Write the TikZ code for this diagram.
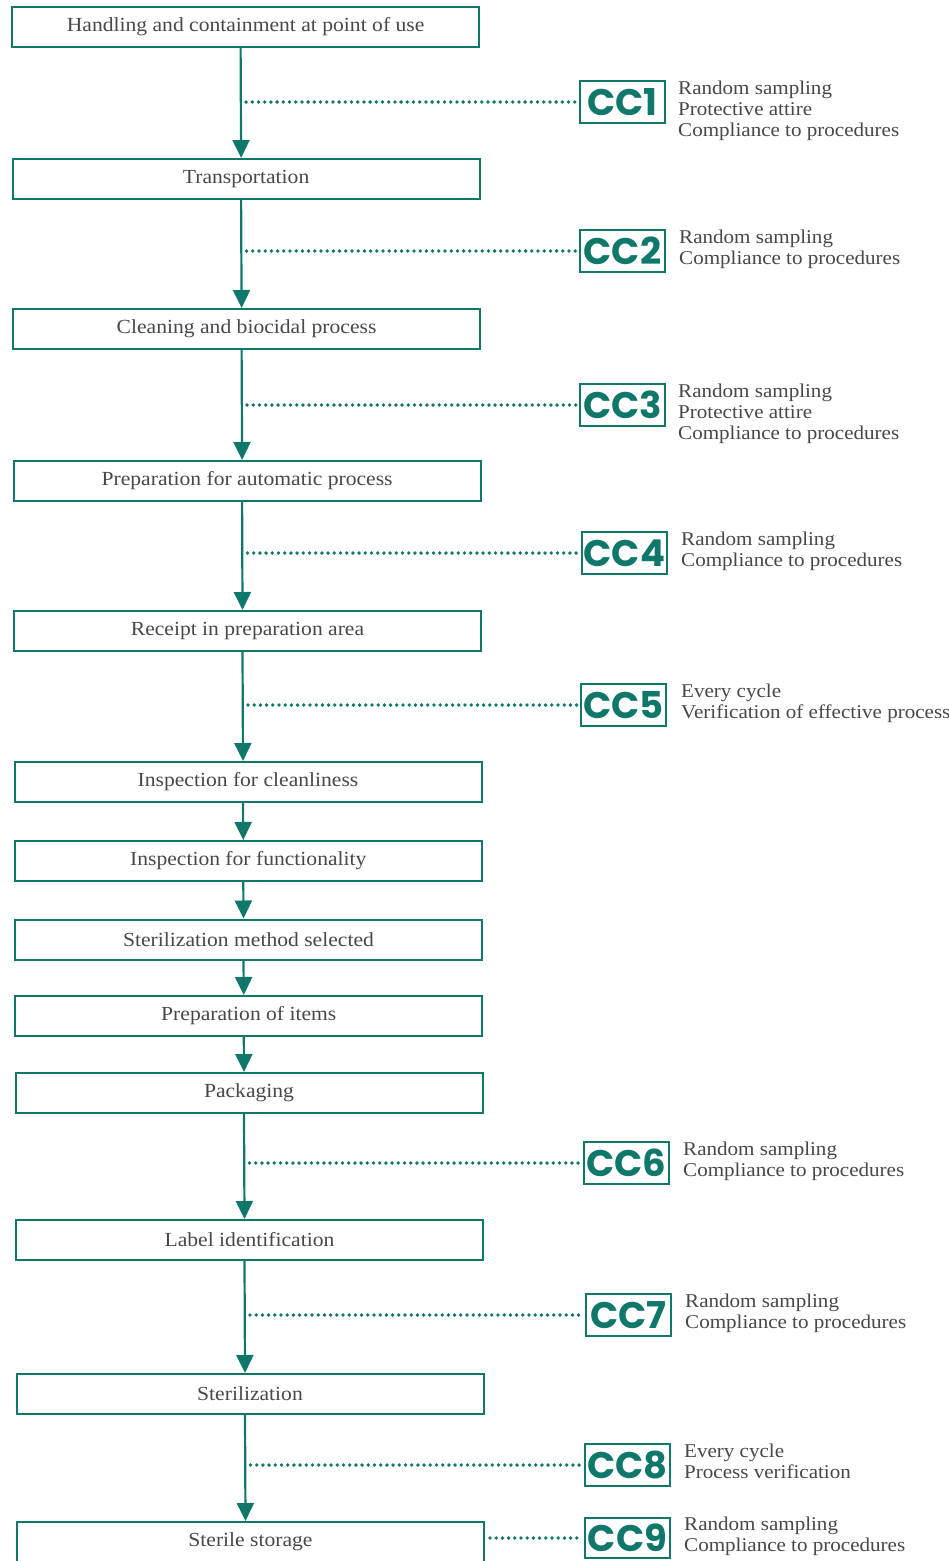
\documentclass[tikz,border=0pt]{standalone}
\usepackage{fontspec}
\setmainfont[FakeStretch=1.08]{Liberation Serif}
\newfontfamily\ccfont{Poppins}
\usetikzlibrary{arrows.meta,calc}
\definecolor{teal1}{RGB}{16,120,106}
\definecolor{txtgray}{RGB}{72,72,72}
\tikzset{
  stepbox/.style={draw=teal1, line width=2pt, minimum width=467pt, minimum height=40pt, inner sep=0pt, text=txtgray, font=\fontsize{20}{24}\selectfont},
  ccbox/.style={draw=teal1, line width=2pt, minimum width=85pt, minimum height=42pt, inner sep=0pt, text=teal1, font=\ccfont\bfseries\fontsize{37}{37}\selectfont},
  cctext/.style={anchor=north west, align=left, text=txtgray, inner sep=0pt, font=\fontsize{19.5}{21}\selectfont},
  arr/.style={draw=teal1, line width=2.2pt, -{Triangle[width=17pt,length=18pt]}},
  dots/.style={draw=teal1, line width=3.8pt, line cap=round, dash pattern=on 0pt off 6.2pt, shorten >=3pt}
}
\begin{document}
\begin{tikzpicture}[x=1pt,y=-1pt]
\useasboundingbox[fill=white] (0,0) rectangle (948,1561);
% process steps
\node[stepbox] (b1)  at (245.6,26.5)  {Handling and containment at point of use};
\node[stepbox] (b2)  at (246.1,179)   {Transportation};
\node[stepbox] (b3)  at (246.6,329)   {Cleaning and biocidal process};
\node[stepbox] (b4)  at (247.1,481)   {Preparation for automatic process};
\node[stepbox] (b5)  at (247.5,631)   {Receipt in preparation area};
\node[stepbox] (b6)  at (248.0,782)   {Inspection for cleanliness};
\node[stepbox] (b7)  at (248.3,861)   {Inspection for functionality};
\node[stepbox] (b8)  at (248.5,939.5) {Sterilization method selected};
\node[stepbox] (b9)  at (248.8,1016)  {Preparation of items};
\node[stepbox] (b10) at (249.0,1093)  {Packaging};
\node[stepbox] (b11) at (249.5,1240)  {Label identification};
\node[stepbox] (b12) at (250.0,1394)  {Sterilization};
\node[stepbox] (b13) at (250.5,1542)  {Sterile storage};
% arrows
\foreach \a/\b in {b1/b2,b2/b3,b3/b4,b4/b5,b5/b6,b6/b7,b7/b8,b8/b9,b9/b10,b10/b11,b11/b12,b12/b13}
  \draw[arr] ([xshift=-5pt]\a.south) -- ([xshift=-5pt]\b.north);
% control checks
\node[ccbox] (cc1) at (622.5,102)  {CC1};
\node[ccbox] (cc2) at (622.5,251)  {CC2};
\node[ccbox] (cc3) at (622.5,405)  {CC3};
\node[ccbox] (cc4) at (624.5,553)  {CC4};
\node[ccbox] (cc5) at (623.5,705)  {CC5};
\node[ccbox] (cc6) at (626.5,1163) {CC6};
\node[ccbox] (cc7) at (628.5,1315) {CC7};
\node[ccbox] (cc8) at (627.5,1465) {CC8};
\node[ccbox, minimum height=40pt] (cc9) at (627.5,1538) {CC9};
% dotted links
\draw[dots] (cc1.west -| b2.north) -- (cc1.west);
\draw[dots] (cc2.west -| b3.north) -- (cc2.west);
\draw[dots] (cc3.west -| b4.north) -- (cc3.west);
\draw[dots] (cc4.west -| b5.north) -- (cc4.west);
\draw[dots] (cc5.west -| b6.north) -- (cc5.west);
\draw[dots] (cc6.west -| b11.north) -- (cc6.west);
\draw[dots] (cc7.west -| b12.north) -- (cc7.west);
\draw[dots] (cc8.west -| b13.north) -- (cc8.west);
\draw[dots, shorten <=5pt] (cc9.west -| b13.east) -- (cc9.west);
% check texts
\node[cctext] (t1) at ([xshift=12pt,yshift=-1pt]cc1.north east) {Random sampling\\Protective attire\\Compliance to procedures};
\node[cctext] (t2) at ([xshift=13pt,yshift=-1pt]cc2.north east) {Random sampling\\Compliance to procedures};
\node[cctext] (t3) at ([xshift=12pt,yshift=-1pt]cc3.north east) {Random sampling\\Protective attire\\Compliance to procedures};
\node[cctext] (t4) at ([xshift=13pt,yshift=-1pt]cc4.north east) {Random sampling\\Compliance to procedures};
\node[cctext] (t5) at ([xshift=14pt,yshift=-1pt]cc5.north east) {Every cycle\\Verification of effective process};
\node[cctext] (t6) at ([xshift=13pt,yshift=-1pt]cc6.north east) {Random sampling\\Compliance to procedures};
\node[cctext] (t7) at ([xshift=13pt,yshift=-1pt]cc7.north east) {Random sampling\\Compliance to procedures};
\node[cctext] (t8) at ([xshift=13pt,yshift=-1pt]cc8.north east) {Every cycle\\Process verification};
\node[cctext] (t9) at ([xshift=13pt,yshift=0pt]cc9.north east) {Random sampling\\Compliance to procedures};
\end{tikzpicture}
\end{document}
